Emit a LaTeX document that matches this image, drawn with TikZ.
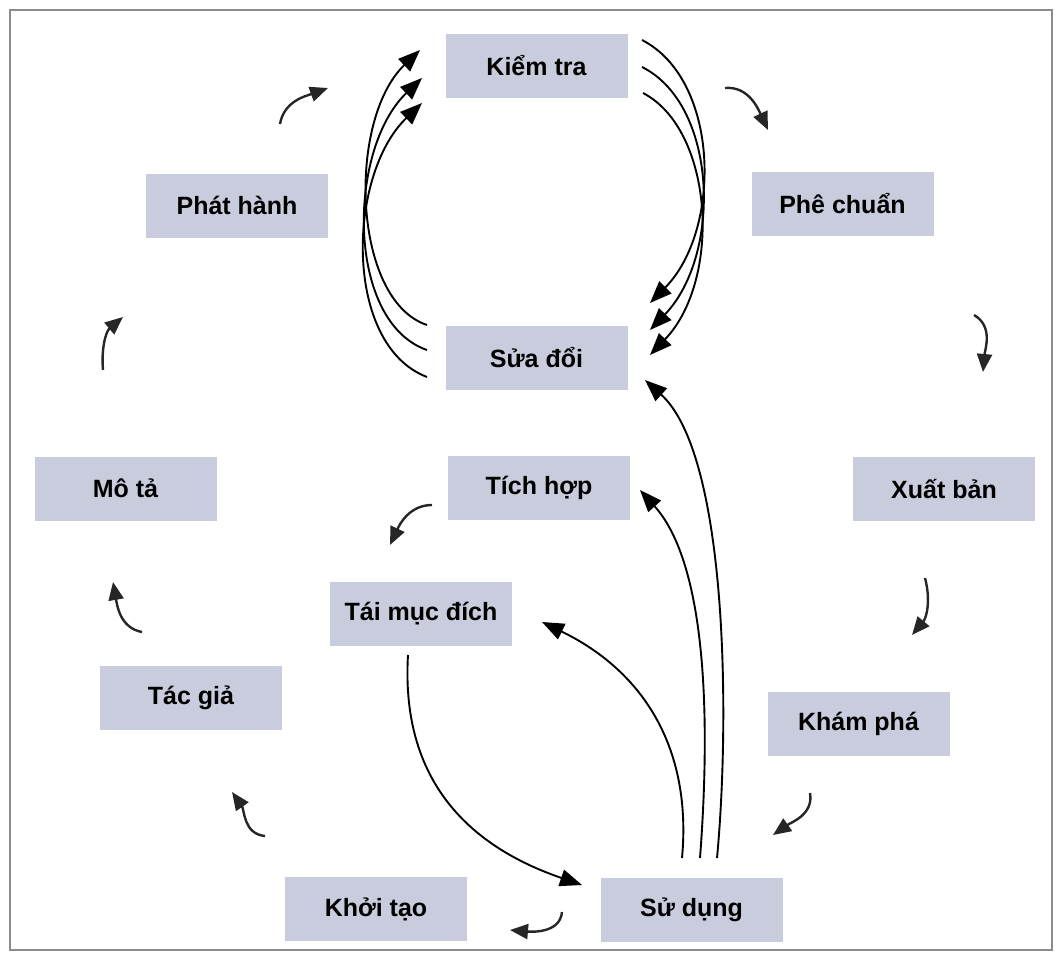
\documentclass[tikz,border=0pt]{standalone}
\usepackage{fontspec}
\setmainfont{Liberation Sans}
\usetikzlibrary{arrows.meta}
\definecolor{boxfill}{HTML}{C8CCDD}
\tikzset{
  box/.style={fill=boxfill, minimum width=182pt, minimum height=64pt, inner sep=0pt,
    font=\fontsize{25}{28}\selectfont\bfseries},
  bigarc/.style={line width=1.9pt, -{Triangle[length=22pt,width=17pt]}},
  smallarr/.style={line width=2.4pt, black!85, -{Triangle[length=18pt,width=15pt]}},
  frame/.style={draw=black!45, line width=1.6pt}
}
\begin{document}
\begin{tikzpicture}[x=1pt,y=-1pt]
\useasboundingbox (0,0) rectangle (1061,961);
\draw[frame] (10,10) rectangle (1052,950);

% nodes
\node[box] (kt)  at (536.5,66)   {Kiểm tra};
\node[box] (sd)  at (536.5,357.5){Sửa đổi};
\node[box] (ph)  at (237,205.5)  {Phát hành};
\node[box] (pc)  at (842.5,204)  {Phê chuẩn};
\node[box] (mt)  at (125.5,488.5){Mô tả};
\node[box] (xb)  at (944,489)    {Xuất bản};
\node[box] (th)  at (539,488)    {Tích hợp};
\node[box] (tmd) at (421,613.5)  {Tái mục đích};
\node[box] (tg)  at (191,697.5)  {Tác giả};
\node[box] (kp)  at (858.5,723.5){Khám phá};
\node[box] (sdg) at (691.5,909.5){Sử dụng};
\node[box] (kht) at (376,909)    {Khởi tạo};

% endpoints of the arcs between Sửa đổi and Kiểm tra
\coordinate (la1) at (427,325); \coordinate (lb1) at (420,50);
\coordinate (la2) at (427,350); \coordinate (lb2) at (422,78);
\coordinate (la3) at (427,377); \coordinate (lb3) at (422,103);
\coordinate (ra1) at (642,40);  \coordinate (rb1) at (650,303);
\coordinate (ra2) at (642,67);  \coordinate (rb2) at (650,330);
\coordinate (ra3) at (643,93);  \coordinate (rb3) at (650,355);

\draw[bigarc] (la1) .. controls (352,300) and (347,120) .. (lb1);
\draw[bigarc] (la2) .. controls (346,322) and (347,150) .. (lb2);
\draw[bigarc] (la3) .. controls (343,345) and (347,175) .. (lb3);

\draw[bigarc] (ra1) .. controls (720,80) and (722,230) .. (rb1);
\draw[bigarc] (ra2) .. controls (718,105) and (722,255) .. (rb2);
\draw[bigarc] (ra3) .. controls (714,130) and (722,280) .. (rb3);

% arcs from Sử dụng
\coordinate (u1) at (682,858); \coordinate (u1t) at (542,622);
\coordinate (u2) at (700,858); \coordinate (u2t) at (640,490);
\coordinate (u3) at (717,858); \coordinate (u3t) at (645,380);
\draw[bigarc] (u1) .. controls (692,750) and (645,672) .. (u1t);
\draw[bigarc] (u2) .. controls (712,700) and (703,560) .. (u2t);
\draw[bigarc] (u3) .. controls (730,720) and (728,455) .. (u3t);

% Tái mục đích -> Sử dụng
\coordinate (r1) at (408,655); \coordinate (r1t) at (582,885);
\draw[bigarc] (r1) .. controls (400,790) and (480,850) .. (r1t);

% small cycle arrows
\coordinate (s1a) at (280,124); \coordinate (s1b) at (328,88);
\coordinate (s2a) at (725,88);  \coordinate (s2b) at (768,130);
\coordinate (s3a) at (974,315); \coordinate (s3b) at (983,372);
\coordinate (s4a) at (925,578); \coordinate (s4b) at (912,635);
\coordinate (s5a) at (810,793); \coordinate (s5b) at (773,835);
\coordinate (s6a) at (562,912); \coordinate (s6b) at (510,930);
\coordinate (s7a) at (265,836); \coordinate (s7b) at (232,792);
\coordinate (s8a) at (142,632); \coordinate (s8b) at (113,582);
\coordinate (s9a) at (103,370); \coordinate (s9b) at (123,317);
\coordinate (s10a) at (432,505); \coordinate (s10b) at (390,545);

\draw[smallarr] (s1a) to[out=80,in=200] (s1b);
\draw[smallarr] (s2a) to[out=5,in=115] (s2b);
\draw[smallarr] (s3a) to[out=-30,in=85] (s3b);
\draw[smallarr] (s4a) to[out=-75,in=50] (s4b);
\draw[smallarr] (s5a) to[out=-80,in=35] (s5b);
\draw[smallarr] (s6a) to[out=-95,in=-5] (s6b);
\draw[smallarr] (s7a) to[out=175,in=-55] (s7b);
\draw[smallarr] (s8a) to[out=170,in=-80] (s8b);
\draw[smallarr] (s9a) to[out=95,in=220] (s9b);
\draw[smallarr] (s10a) to[out=180,in=65] (s10b);
\end{tikzpicture}
\end{document}
